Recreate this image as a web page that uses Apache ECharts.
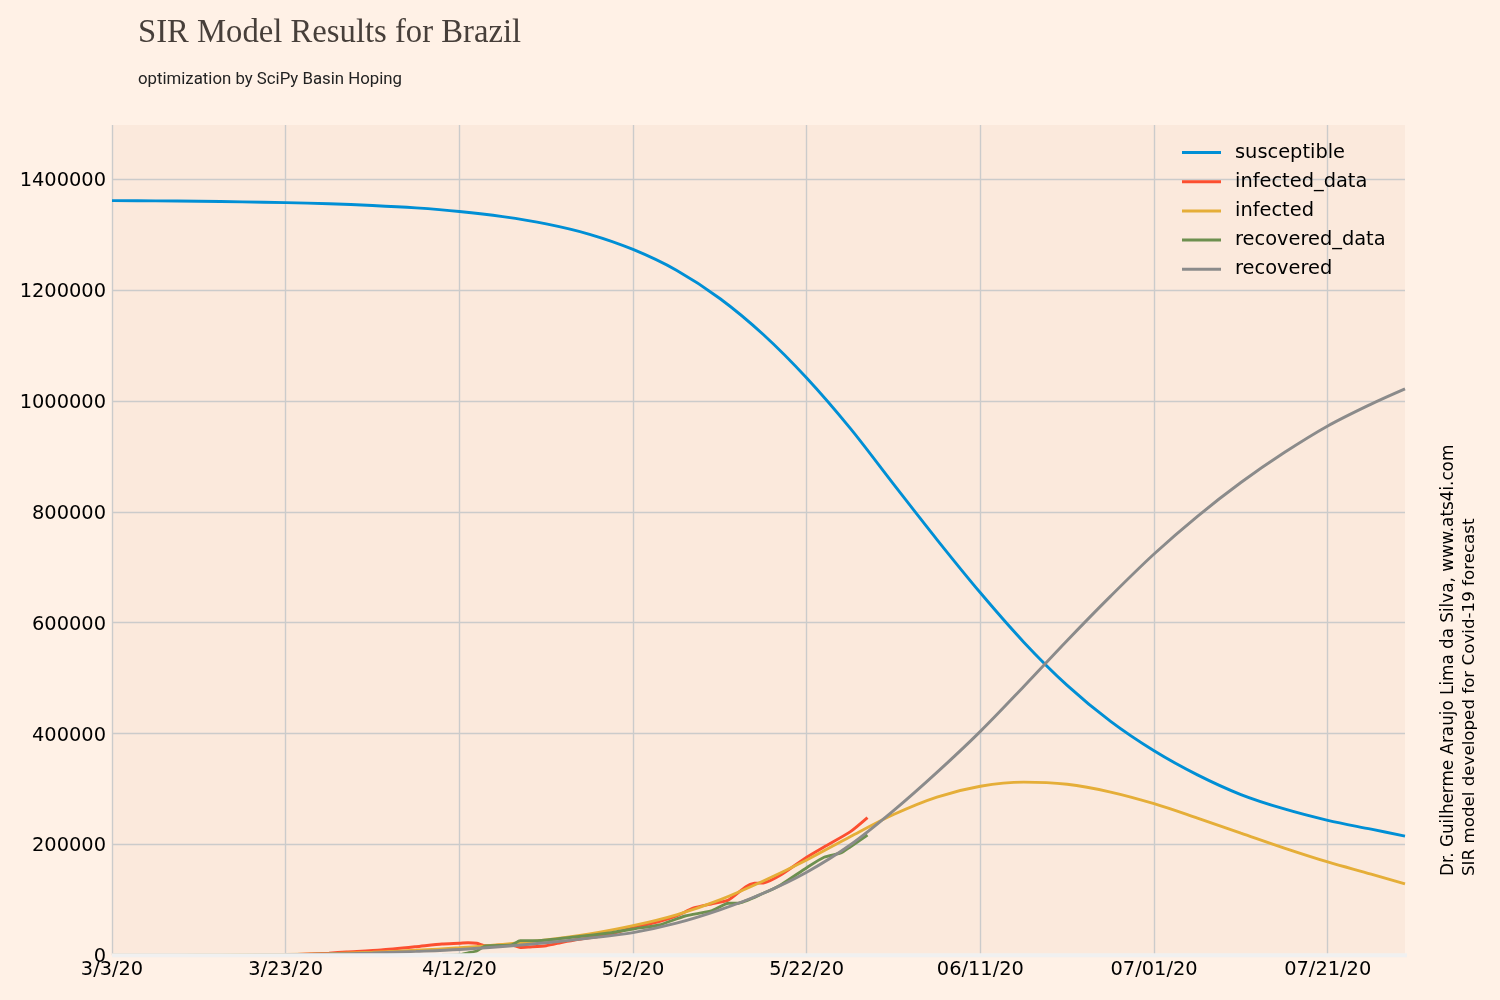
<!DOCTYPE html>
<html><head><meta charset="utf-8">
<style>html,body{margin:0;padding:0;background:#fff1e6}#c{width:1500px;height:1000px}</style>
<script src="https://cdn.jsdelivr.net/npm/echarts@6/dist/echarts.min.js"></script>
</head><body><div id="c"></div>
<script>
const tickLabels = ['3/3/20','3/23/20','4/12/20','5/2/20','5/22/20','06/11/20','07/01/20','07/21/20'];
const modelDays = [0,5,10,15,20,25,30,35,40,45,50,55,60,65,70,75,80,85,90,95,100,105,110,115,120,125,130,135,140,145,148.9];
const susceptible = [1361500,1361100,1360400,1359300,1358000,1355900,1352800,1348400,1341900,1332600,1319600,1300800,1273500,1236000,1185000,1120000,1041500,951000,850000,750000,654000,565000,487000,422000,369000,325500,290000,264000,243500,227500,215000];
const infected = [100,200,500,900,1500,3000,5500,9000,13500,19500,27500,38500,53400,73000,100000,134000,172000,214000,254000,285500,305000,312500,308500,294500,273500,247500,220500,193500,168500,146500,128700];
const recovered = [100,100,200,400,1000,2300,4100,7000,10500,16000,22600,30900,41000,58000,82000,112000,150000,199000,261000,330000,404000,485000,568000,648000,724000,792000,853000,907000,955000,994500,1022000];
const infectedDataDays = [20,25,27,31,35,38,40,41,42,43,44,45,46,47,48,50,52,54,57,60,63,65,67,69,71,73,74,75,77,80,82,85,87];
const infectedData = [500,4000,6000,9600,15500,20400,21700,22700,21700,17300,17700,18600,18600,14100,15000,17300,24000,29400,36600,49800,60600,70900,85400,92600,99800,123800,130000,130500,144900,176900,195500,222600,248400];
const recoveredDataDays = [38,40,41,42,43,46,47,49,53,57,60,63,66,69,71,72,75,77,80,82,84,85,87];
const recoveredData = [0,1000,4500,7800,16800,18600,26400,26400,32500,39700,47500,54700,70900,80000,93900,93900,111900,126900,158100,176900,185200,195500,217100];
const baselineDays = [0,149.15];
const baselineValues = [0,0];

const zip = (xs, ys) => xs.map((x, i) => [x, ys[i]]);
const line = (name, color, xs, ys, smooth) => ({
  name, type: 'line', data: zip(xs, ys), showSymbol: false, symbol: 'none',
  smooth, lineStyle: { color, width: 2.9 }, itemStyle: { color }
});
const chart = echarts.init(document.getElementById('c'), null, { renderer: 'canvas' });
const black = '#000';
const sans = 'DejaVu Sans';
chart.setOption({
  animation: false,
  backgroundColor: '#fff1e6',
  textStyle: { fontFamily: sans },
  title: [
    { text: 'SIR Model Results for Brazil', left: 133, top: 11.5, textStyle: { fontFamily: 'Liberation Serif', fontWeight: 'normal', fontSize: 32.7, color: '#473f3a' } },
    { text: 'optimization by SciPy Basin Hoping', left: 133, top: 66, textStyle: { fontFamily: 'Roboto', fontWeight: 'normal', fontSize: 16.8, color: '#222' } }
  ],
  legend: {
    left: 1182, top: 143, padding: 0, orient: 'vertical', icon: 'rect', itemWidth: 39, itemHeight: 3, itemGap: 10.2,
    textStyle: { fontFamily: sans, fontSize: 19.4, color: black, padding: [0, 0, 0, 9] },
    data: ['susceptible','infected_data','infected','recovered_data','recovered']
  },
  grid: { left: 112, right: 95, top: 125, bottom: 44.7, show: true, backgroundColor: '#fbe9dc', borderWidth: 0, containLabel: false },
  xAxis: {
    type: 'value', min: 0, max: 148.9, interval: 20, position: 'bottom',
    axisLine: { show: false },
    axisTick: { show: false },
    splitLine: { show: true, showMaxLine: false, lineStyle: { color: '#cbcbcb', width: 1.4 } },
    axisLabel: { show: true, showMaxLabel: false, color: black, fontFamily: sans, fontSize: 19.4, margin: 5, hideOverlap: false,
      formatter: v => tickLabels[Math.round(v / 20)] || '' }
  },
  yAxis: {
    type: 'value', min: 0, max: 1498000, interval: 200000,
    axisLine: { show: false }, axisTick: { show: false },
    splitLine: { show: true, showMaxLine: false, lineStyle: { color: '#cbcbcb', width: 1.4 } },
    axisLabel: { show: true, showMaxLabel: false, margin: 6,
      formatter: v => '{n|' + v + '}',
      rich: { n: { color: black, fontFamily: sans, fontSize: 19.4, padding: [4, 0, 0, 0] } } }
  },
  series: [
    line('susceptible', '#008fd5', modelDays, susceptible, 0.33),
    line('infected_data', '#fc4f30', infectedDataDays, infectedData, 0.2),
    line('infected', '#e5ae38', modelDays, infected, 0.33),
    line('recovered_data', '#6d904f', recoveredDataDays, recoveredData, 0.2),
    line('recovered', '#8b8b8b', modelDays, recovered, 0.33),
    { name: 'baseline', type: 'line', z: 10, clip: false, silent: true, showSymbol: false, symbol: 'none',
      data: zip(baselineDays, baselineValues), lineStyle: { color: '#f0f0f0', width: 4 } }
  ],
  graphic: [
    { type: 'text', x: 1448.5, y: 876, rotation: Math.PI / 2, style: { text: 'Dr. Guilherme Araujo Lima da Silva, www.ats4i.com', font: '16.8px "DejaVu Sans"', fill: black, textAlign: 'left', textVerticalAlign: 'middle' } },
    { type: 'text', x: 1469.5, y: 876, rotation: Math.PI / 2, style: { text: 'SIR model developed for Covid-19 forecast', font: '16.7px "DejaVu Sans"', fill: black, textAlign: 'left', textVerticalAlign: 'middle' } }
  ]
});
</script></body></html>
